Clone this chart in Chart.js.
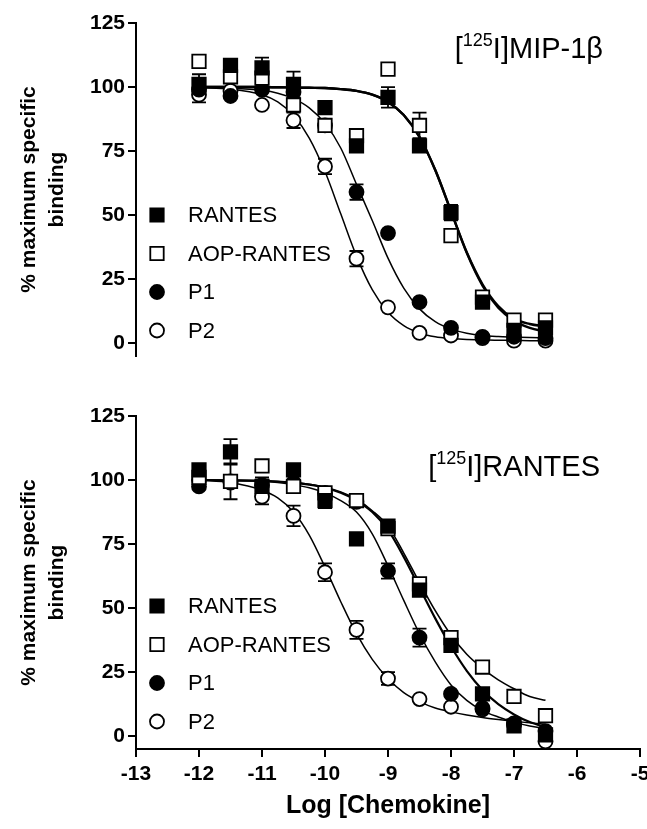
<!DOCTYPE html>
<html>
<head>
<meta charset="utf-8">
<script src="https://cdn.jsdelivr.net/npm/chart.js@4.4.0/dist/chart.umd.min.js"></script>
<style>
  html, body { margin: 0; padding: 0; background: #fff; overflow: hidden; }
  .panel { position: absolute; left: 0; top: 0; width: 680px; height: 829px; }
</style>
</head>
<body>
<div class="panel"><canvas id="topChart" width="680" height="829"></canvas></div>
<div class="panel"><canvas id="bottomChart" width="680" height="829"></canvas></div>
<script>
// log concentrations of the data points
const doses = [-12, -11.5, -11, -10.5, -10, -9.5, -9, -8.5, -8, -7.5, -7, -6.5];
const seriesNames = ['RANTES', 'AOP-RANTES', 'P1', 'P2'];
const xTicks = [-13, -12, -11, -10, -9, -8, -7, -6, -5];
const yTicks = [0, 25, 50, 75, 100, 125];

// [125I]MIP-1b panel
const mipRantes = [101, 108.5, 107.5, 101, 92, 77, 96, 77, 51, 16, 5, 6];
const mipAop    = [110, 104, 103.5, 93, 85, 81, 107, 85, 42, 18, 9, 9];
const mipP1     = [99, 96.5, 99, 98, 85, 59, 43, 16, 6, 2.5, 2.5, 2];
const mipP2     = [97, 98.5, 93, 87, 69, 33, 14, 4, 3, 2, 1, 1];
const mipRantesErr = [4, 2, 4, 5, 0, 0, 4, 0, 3, 0, 0, 0];
const mipAopErr    = [0, 0, 0, 0, 0, 0, 0, 5, 0, 0, 0, 0];
const mipP1Err     = [0, 0, 0, 0, 0, 3, 0, 0, 0, 0, 0, 0];
const mipP2Err     = [3, 0, 0, 3, 3, 3, 0, 0, 0, 0, 0, 0];

// [125I]RANTES panel
const ranRantes = [104, 111, 97.5, 104, 92, 77, 82, 57, 35.5, 16.5, 4, 0.5];
const ranAop    = [101, 99.5, 105.5, 97.5, 95, 92, 81, 59.5, 38.5, 27, 15.5, 8];
const ranP1     = [97.5, 99, 98, 99, 95, 91.5, 64.5, 38.5, 16.5, 11, 4.5, 2];
const ranP2     = [100, 99.5, 93.5, 86, 64, 41.5, 22.5, 14.5, 11.5, 10.5, 5, -2];
const ranRantesErr = [0, 5, 0, 0, 3, 0, 0, 0, 0, 0, 0, 0];
const ranAopErr    = [0, 7, 0, 0, 0, 0, 0, 0, 0, 0, 0, 0];
const ranP1Err     = [0, 0, 3, 0, 0, 0, 3, 3.5, 0, 0, 0, 0];
const ranP2Err     = [0, 0, 3, 4, 3.5, 3.5, 2.5, 0, 0, 0, 0, 0];

// fitted curves
const fitX = [-12, -11.5, -11, -10.75, -10.5, -10.25, -10, -9.75, -9.5, -9.25, -9, -8.75, -8.5, -8.25, -8, -7.75, -7.5, -7.25, -7, -6.75, -6.5];
const mipFitRantes = [100, 100, 100, 99.9, 99.8, 99.7, 99.6, 99.2, 98.5, 97, 94.2, 89.1, 80.5, 67.6, 51.5, 35.3, 22.5, 13.9, 8.8, 6, 4.5];
const mipFitAop    = [100, 100, 100, 99.9, 99.8, 99.7, 99.6, 99.2, 98.5, 97, 94.2, 89.1, 80.5, 67.6, 51.5, 35.5, 23, 14.5, 9.5, 7.5, 6.5];
const mipFitP1     = [99.9, 99.6, 98.7, 97.6, 95.5, 91.9, 85.8, 76.2, 62, 47.9, 33.2, 21.5, 13.4, 8.4, 5.5, 3.9, 3, 2.6, 2.4, 2.2, 2.1];
const mipFitP2     = [99.8, 99.2, 97, 94.2, 88.9, 80.1, 67, 50.5, 34, 20.9, 12.1, 6.9, 4, 2.5, 1.8, 1.4, 1.3, 1.1, 1.1, 1, 1];
const ranFitRantes = [100, 99.9, 99.7, 99.4, 99, 98.2, 97, 95, 92, 87.5, 80.5, 70, 58, 46, 35, 25.5, 18, 12.5, 8.5, 5.5, 3.5];
const ranFitAop    = [100, 99.9, 99.7, 99.4, 99, 98.3, 97.2, 95.3, 92.5, 88, 82, 71.5, 60, 49, 39.5, 32, 26.5, 22, 18.5, 15.5, 14];
const ranFitP1     = [100, 99.8, 99.5, 99, 98.2, 97, 95, 92, 87.5, 79, 66.5, 53, 40, 29, 20, 14, 10, 7.5, 5.5, 4, 3];
const ranFitP2     = [100, 99, 96, 93, 87.5, 78.5, 66, 52.5, 40, 30, 22.5, 17, 13.5, 11, 9.5, 8.3, 7.3, 6.5, 5.8, 5.2, 4.7];

const FONT = "'Liberation Sans', Arial, Helvetica, sans-serif";
const NARROW = "'Liberation Sans Narrow', 'Liberation Sans', Arial, sans-serif";
const markerStyles = [
  { shape: 'rect', filled: true },
  { shape: 'rect', filled: false },
  { shape: 'circle', filled: true },
  { shape: 'circle', filled: false },
];

function toXY(xs, ys) {
  return xs.map((x, i) => ({ x: x, y: ys[i] }));
}

function buildDatasets(points, errs, fits, fitWidths) {
  const sets = [];
  points.forEach((vals, i) => {
    const st = markerStyles[i];
    sets.push({
      label: seriesNames[i],
      data: toXY(doses, vals),
      err: errs[i],
      showLine: false,
      pointStyle: st.shape,
      pointRadius: st.shape === 'rect' ? 9.5 : 7,
      pointBackgroundColor: st.filled ? '#000' : '#fff',
      pointBorderColor: '#000',
      pointBorderWidth: 1.8,
      order: 1,
    });
  });
  fits.forEach((vals, i) => {
    sets.push({
      label: seriesNames[i] + ' fit',
      data: toXY(fitX, vals),
      showLine: true,
      pointRadius: 0,
      borderColor: '#000',
      borderWidth: fitWidths[i],
      cubicInterpolationMode: 'monotone',
      order: 3,
    });
  });
  return sets;
}

// error bars drawn from the data through the chart's scales
const errorBars = {
  id: 'errorBars',
  beforeDatasetsDraw(chart) {
    const { ctx, scales: { x, y } } = chart;
    ctx.save();
    ctx.strokeStyle = '#000';
    ctx.lineWidth = 1.8;
    chart.data.datasets.forEach(ds => {
      if (!ds.err) return;
      ds.data.forEach((p, i) => {
        const e = ds.err[i];
        if (!e) return;
        const px = x.getPixelForValue(p.x);
        const y1 = y.getPixelForValue(p.y + e);
        const y2 = y.getPixelForValue(p.y - e);
        ctx.beginPath();
        ctx.moveTo(px, y1); ctx.lineTo(px, y2);
        ctx.moveTo(px - 7, y1); ctx.lineTo(px + 7, y1);
        ctx.moveTo(px - 7, y2); ctx.lineTo(px + 7, y2);
        ctx.stroke();
      });
    });
    ctx.restore();
  }
};

function drawMarker(ctx, st, cx, cy) {
  ctx.save();
  ctx.lineWidth = 1.8;
  ctx.strokeStyle = '#000';
  ctx.fillStyle = st.filled ? '#000' : '#fff';
  ctx.beginPath();
  if (st.shape === 'rect') ctx.rect(cx - 6.7, cy - 6.7, 13.4, 13.4);
  else ctx.arc(cx, cy, 7, 0, Math.PI * 2);
  ctx.fill();
  ctx.stroke();
  ctx.restore();
}

// legend and panel title inside the plot
const panelDecor = {
  id: 'panelDecor',
  afterDraw(chart, args, opts) {
    const { ctx, chartArea } = chart;
    ctx.save();
    ctx.fillStyle = '#000';
    ctx.textBaseline = 'middle';
    ctx.font = '22px ' + FONT;
    seriesNames.forEach((name, i) => {
      const ly = chartArea.top + opts.legendTop + i * 38.5;
      drawMarker(ctx, markerStyles[i], chartArea.left + 21, ly);
      ctx.fillText(name, chartArea.left + 52, ly + 1);
    });
    // title with superscript
    const [pre, sup, post] = opts.title;
    const big = '29px ' + FONT, small = '18px ' + FONT;
    ctx.textBaseline = 'alphabetic';
    ctx.font = big;
    const w1 = ctx.measureText(pre).width, w3 = ctx.measureText(post).width;
    ctx.font = small;
    const w2 = ctx.measureText(sup).width;
    let tx = chartArea.left + opts.titleRight - (w1 + w2 + w3);
    const ty = chartArea.top + opts.titleBase;
    ctx.font = big; ctx.fillText(pre, tx, ty); tx += w1;
    ctx.font = small; ctx.fillText(sup, tx, ty - 12); tx += w2;
    ctx.font = big; ctx.fillText(post, tx, ty);
    ctx.restore();
  }
};

function yAxis() {
  return {
    type: 'linear', min: -5, max: 125,
    afterBuildTicks: s => { s.ticks = yTicks.map(v => ({ value: v })); },
    afterFit: s => { s.width = 136; },
    ticks: { color: '#000', padding: 3, font: { family: FONT, size: 21, weight: 'bold' } },
    grid: { drawOnChartArea: false, drawTicks: true, tickLength: 8, color: '#000', lineWidth: 2 },
    border: { display: true, color: '#000', width: 2 },
    title: {
      display: true, text: ['% maximum specific', 'binding'], color: '#000',
      font: { family: NARROW, size: 21, weight: 'bold', lineHeight: 1.3 },
      padding: { top: 16 }
    }
  };
}

function xAxis(show) {
  return {
    type: 'linear', min: -13, max: -5, display: show,
    afterBuildTicks: s => { s.ticks = xTicks.map(v => ({ value: v })); },
    afterFit: s => { if (show) s.height = 80; },
    ticks: { color: '#000', padding: 5, font: { family: FONT, size: 21, weight: 'bold' }, callback: v => String(v) },
    grid: { drawOnChartArea: false, drawTicks: true, tickLength: 8, color: '#000', lineWidth: 2 },
    border: { display: true, color: '#000', width: 2 },
    title: {
      display: true, text: 'Log [Chemokine]', color: '#000',
      font: { family: FONT, size: 25, weight: 'bold' },
      padding: { bottom: 8 }
    }
  };
}

function makeChart(id, datasets, padding, showX, decor) {
  return new Chart(document.getElementById(id).getContext('2d'), {
    type: 'scatter',
    data: { datasets: datasets },
    options: {
      responsive: false,
      animation: false,
      layout: { padding: padding },
      scales: { x: xAxis(showX), y: yAxis() },
      plugins: { legend: { display: false }, tooltip: { enabled: false }, panelDecor: decor }
    },
    plugins: [errorBars, panelDecor]
  });
}

makeChart('topChart',
  buildDatasets([mipRantes, mipAop, mipP1, mipP2],
    [mipRantesErr, mipAopErr, mipP1Err, mipP2Err],
    [mipFitRantes, mipFitAop, mipFitP1, mipFitP2], [2.4, 2.4, 1.5, 1.5]),
  { top: 23, right: 40, bottom: 473, left: 0 }, false,
  { legendTop: 192, titleRight: 467, titleBase: 35, title: ['[', '125', 'I]MIP-1\u03b2'] });

makeChart('bottomChart',
  buildDatasets([ranRantes, ranAop, ranP1, ranP2],
    [ranRantesErr, ranAopErr, ranP1Err, ranP2Err],
    [ranFitRantes, ranFitAop, ranFitP1, ranFitP2], [2.2, 1.6, 1.5, 1.5]),
  { top: 416, right: 40, bottom: 0, left: 0 }, true,
  { legendTop: 190, titleRight: 464, titleBase: 60, title: ['[', '125', 'I]RANTES'] });
</script>
</body>
</html>
